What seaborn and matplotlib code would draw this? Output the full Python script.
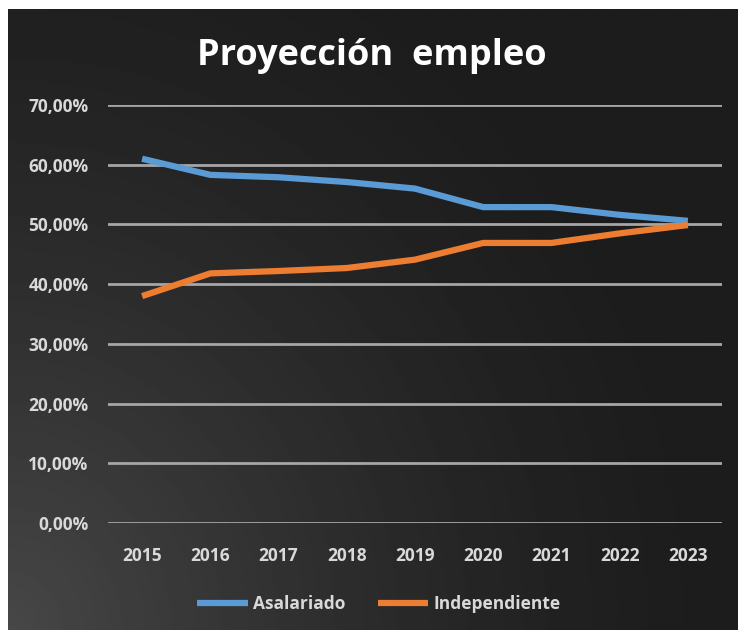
import numpy as np
import pandas as pd
import matplotlib
matplotlib.use("Agg")
import matplotlib.pyplot as plt
import seaborn as sns

# --------- data ------------------------------
years = ["2015", "2016", "2017", "2018", "2019", "2020", "2021", "2022", "2023"]
asalariado = [61.0, 58.3, 57.9, 57.1, 56.0, 52.9, 52.9, 51.6, 50.6]
independiente = [38.0, 41.8, 42.2, 42.7, 44.1, 46.9, 46.9, 48.5, 49.9]
series_names = ["Asalariado", "Independiente"]
y_ticks = [0, 10, 20, 30, 40, 50, 60, 70]
# ---------------------------------------------

df = pd.DataFrame({
    "Año": years * 2,
    "Valor": asalariado + independiente,
    "Serie": [series_names[0]] * len(years) + [series_names[1]] * len(years),
})

sns.set_theme(style="white")
plt.rcParams["font.family"] = ["Open Sans", "DejaVu Sans"]

W, H = 738, 630
fig = plt.figure(figsize=(W / 100, H / 100), dpi=100)
fig.patch.set_facecolor("white")

# dark background panel, lighter towards the bottom-left corner
bg = fig.add_axes([8 / W, 0, 1 - 8 / W, 1 - 9 / H])
bg.set_axis_off()
gx, gy = np.meshgrid(np.linspace(0, 1, 300), np.linspace(0, 1, 300))
d = np.sqrt((gx * 1.0) ** 2 + ((1 - gy) * 0.8) ** 2)
glow = np.clip(1 - d / 1.0, 0, 1) ** 1.5
dark, light = 0.11, 0.28
img = dark + (light - dark) * glow
bg.imshow(img, cmap="gray", vmin=0, vmax=1, aspect="auto", extent=[0, 1, 0, 1], origin="upper")

# plot area: x 108-722, y 105-523 (image pixels)
ax = fig.add_axes([108 / W, 1 - 523 / H, (722 - 108) / W, (523 - 105) / H])
ax.patch.set_alpha(0)

palette = {"Asalariado": "#5B9BD5", "Independiente": "#ED7D31"}
sns.lineplot(data=df, x="Año", y="Valor", hue="Serie", palette=palette,
             linewidth=4.5, sort=False, ax=ax, legend=False, zorder=3,
             solid_capstyle="butt")

ax.set_xlim(-0.5, len(years) - 0.5)
ax.set_ylim(0, 70)
ax.set_yticks(y_ticks)
ax.set_yticklabels([f"{v:.2f}%".replace(".", ",") for v in y_ticks])
ax.yaxis.grid(True, color="#a6a6a6", linewidth=2.0, zorder=1)
ax.set_axisbelow(True)
ax.xaxis.grid(False)
for s in ax.spines.values():
    s.set_visible(False)
ax.tick_params(axis="both", length=0, colors="#d9d9d9", labelsize=12.5)
ax.tick_params(axis="y", pad=14)
ax.tick_params(axis="x", pad=17)
for lab in ax.get_xticklabels() + ax.get_yticklabels():
    lab.set_fontweight("bold")
ax.set_xlabel("")
ax.set_ylabel("")

fig.text(372 / W, 1 - 56 / H, "Proyección  empleo", color="white", fontsize=26,
         fontweight="bold", ha="center", va="center")

handles = [plt.Line2D([], [], color=palette[n], linewidth=4.5, solid_capstyle="butt")
           for n in series_names]
fig.legend(handles, series_names, loc="center", bbox_to_anchor=(379 / W, 1 - 604 / H),
           ncol=2, frameon=False, handlelength=2.9, handletextpad=0.3, columnspacing=1.9,
           prop={"size": 12.5, "weight": "bold"}, labelcolor="#d9d9d9")

fig.savefig("out.png", dpi=100, facecolor=fig.get_facecolor())
